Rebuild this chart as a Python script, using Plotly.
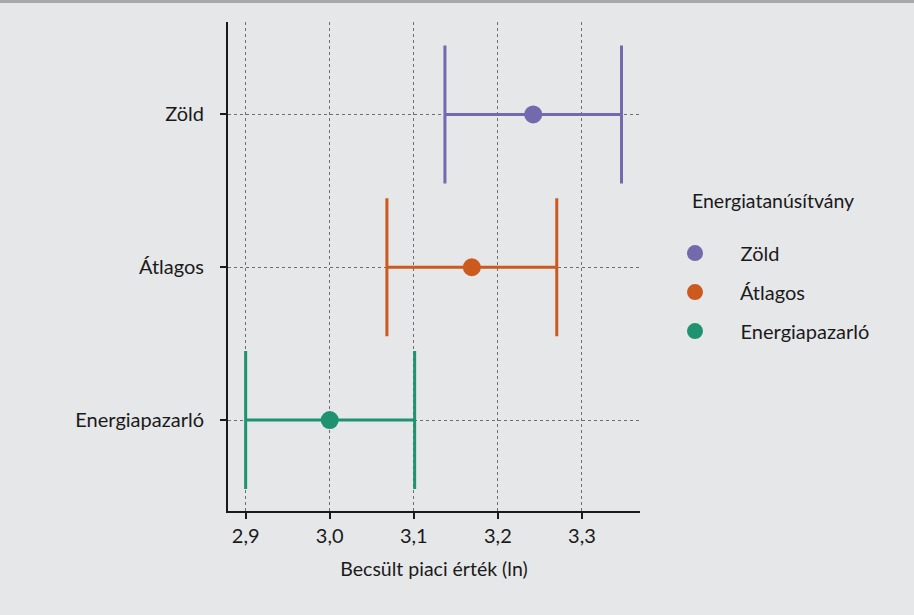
import plotly.graph_objects as go

categories = ["Energiapazarló", "Átlagos", "Zöld"]
estimates = [3.000, 3.169, 3.242]
ci_low = [2.900, 3.068, 3.137]
ci_high = [3.101, 3.270, 3.347]
colors = ["#1f9270", "#cc5a1e", "#7369ad"]
legend_order = ["Zöld", "Átlagos", "Energiapazarló"]
x_ticks = [2.9, 3.0, 3.1, 3.2, 3.3]
x_tick_labels = ["2,9", "3,0", "3,1", "3,2", "3,3"]

FONT = "Lato, Carlito, Calibri, sans-serif"
NB = "\u00a0"
fig = go.Figure()
for name in legend_order:
    i = categories.index(name)
    fig.add_trace(go.Scatter(
        x=[estimates[i]], y=[name], mode="markers", name=NB * 5 + name,
        legendgroup=name,
        marker=dict(color=colors[i], size=18),
        error_x=dict(type="data", symmetric=False,
                     array=[ci_high[i] - estimates[i]],
                     arrayminus=[estimates[i] - ci_low[i]],
                     color=colors[i], thickness=3, width=69),
    ))

axis_common = dict(showgrid=True, gridcolor="#6f6f6f", griddash="dot", gridwidth=1,
                   showline=True, linecolor="#1a1a1a", linewidth=2,
                   ticks="outside", tickcolor="#1a1a1a", ticklen=6, tickwidth=2,
                   zeroline=False, tickfont=dict(size=20, color="#1a1a1a"))

fig.update_layout(
    width=914, height=615,
    paper_bgcolor="#e6e7e9", plot_bgcolor="#e6e7e9",
    margin=dict(l=228, r=274, t=22, b=104),
    font=dict(family=FONT, size=19.5, color="#1a1a1a"),
    xaxis=dict(range=[2.879, 3.369], tickvals=x_ticks, ticktext=x_tick_labels,
               title=dict(text="Becsült piaci érték (ln)", standoff=16,
                          font=dict(size=19.5)),
               **axis_common),
    yaxis=dict(type="category", categoryorder="array", categoryarray=categories,
               range=[-0.595, 2.605], ticklabelstandoff=12, **axis_common),
    legend=dict(title=dict(text=NB * 3 + "Energiatanúsítvány<br> ", side="top",
                           font=dict(size=19.5)),
                x=(675 - 228) / 412, xanchor="left", y=0.671, yanchor="top",
                bgcolor="rgba(0,0,0,0)", tracegroupgap=10,
                font=dict(size=20)),
    shapes=[dict(type="rect", xref="paper", yref="paper",
                 x0=-228/412, x1=686/412, y0=1 + 19/489, y1=1 + 22/489,
                 fillcolor="#a9a9a9", line=dict(width=0))],
)

fig.write_html("out.html", config={"displayModeBar": False},
               post_script="document.body.style.margin='0';")
